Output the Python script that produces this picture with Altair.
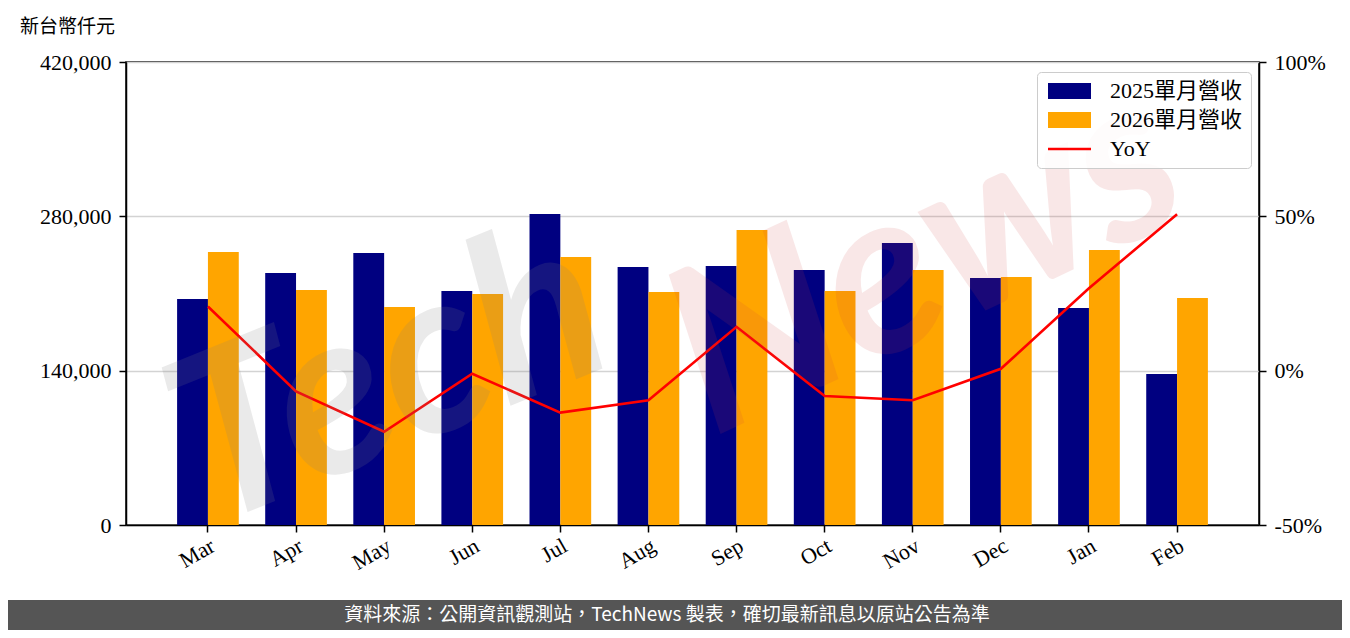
import altair as alt
import pandas as pd

months = ["Mar", "Apr", "May", "Jun", "Jul", "Aug", "Sep", "Oct", "Nov", "Dec", "Jan", "Feb"]
rev_2025 = [205000, 228600, 246700, 212300, 282100, 234000, 235000, 231300, 255800, 224100, 196900, 137000]
rev_2026 = [247600, 213200, 197800, 209600, 243100, 211400, 267600, 212300, 231300, 225000, 249500, 205900]
yoy_pct = [20.8, -6.7, -19.8, -1.0, -13.6, -9.6, 14.2, -8.2, -9.6, 0.6, 26.7, 50.7]
series_names = ["2025單月營收", "2026單月營收", "YoY"]
series_colors = ["#000080", "#FFA500", "#FF0000"]
left_ticks = [0, 140000, 280000, 420000]
right_ticks = [-50, 0, 50, 100]
unit_label = "新台幣仟元"
footer_text = "資料來源：公開資訊觀測站，TechNews 製表，確切最新訊息以原站公告為準"

SERIF = "Liberation Serif, Noto Sans CJK TC, serif"
SANS = "Noto Sans CJK TC, sans-serif"

bar_df = pd.DataFrame(
    {
        "month": months * 2,
        "series": [series_names[0]] * len(months) + [series_names[1]] * len(months),
        "value": rev_2025 + rev_2026,
    }
)
line_df = pd.DataFrame({"month": months, "yoy": yoy_pct})
one = pd.DataFrame({"k": [0]})

W, H = 1133, 463

x_enc = alt.X(
    "month:N",
    sort=months,
    scale=alt.Scale(paddingInner=0.3, paddingOuter=0.58),
    axis=alt.Axis(
        title=None,
        labelAngle=330,
        labelAlign="right",
        labelBaseline="top",
        labelFontSize=22,
        labelPadding=3,
        grid=False,
    ),
)

wide = "M-1,-1H4.375V1H-1Z"
thin = "M-1,-0.17H4.375V0.17H-1Z"

bars = alt.Chart(bar_df).mark_bar().encode(
    x=x_enc,
    xOffset=alt.XOffset("series:N", sort=series_names[:2], scale=alt.Scale(paddingInner=0, paddingOuter=0)),
    y=alt.Y(
        "value:Q",
        scale=alt.Scale(domain=[0, 420000], nice=False),
        axis=alt.Axis(
            title=None,
            values=left_ticks,
            format=",d",
            grid=True,
            gridColor="#d3d3d3",
            gridWidth=1.5,
            labelPadding=8,
        ),
    ),
    color=alt.Color(
        "series:N",
        scale=alt.Scale(domain=series_names, range=series_colors),
        legend=alt.Legend(
            title=None,
            orient="none",
            legendX=911,
            legendY=10,
            padding=8,
            rowPadding=7,
            symbolSize=256,
            symbolStrokeWidth=0,
            symbolOpacity=1,
            symbolType={"expr": "datum.value === 'YoY' ? '" + thin + "' : '" + wide + "'"},
            labelOffset=43,
            labelFont=SERIF,
            labelFontSize=22,
            labelColor="black",
            strokeColor="#cccccc",
            fillColor="rgba(255,255,255,0.85)",
            cornerRadius=4,
            labelLimit=300,
        ),
    ),
)

line = alt.Chart(line_df).mark_line(color="#FF0000", strokeWidth=2.6).encode(
    x=alt.X("month:N", sort=months),
    y=alt.Y(
        "yoy:Q",
        scale=alt.Scale(domain=[-50, 100], nice=False),
        axis=alt.Axis(
            title=None,
            orient="right",
            values=right_ticks,
            labelExpr="datum.value + '%'",
            grid=False,
            labelPadding=8,
        ),
    ),
)

wm_tech = alt.Chart(one).mark_text(
    text="Tech",
    font="Lato",
    fontStyle="italic",
    fontWeight="bold",
    fontSize=230,
    angle=338,
    color="#808080",
    opacity=0.16,
    align="center",
    baseline="middle",
).encode(x=alt.value(264), y=alt.value(318))

wm_news = alt.Chart(one).mark_text(
    text="News",
    font="Lato",
    fontStyle="italic",
    fontWeight="bold",
    fontSize=230,
    angle=335,
    color="#d04040",
    opacity=0.12,
    align="center",
    baseline="middle",
).encode(x=alt.value(800), y=alt.value(200))

unit = alt.Chart(one).mark_text(
    text=unit_label, font=SANS, fontSize=19, color="black", align="left", baseline="middle"
).encode(x=alt.value(-106), y=alt.value(-35))

footer_bg = alt.Chart(one).mark_rect(color="#555555").encode(
    x=alt.value(-118), x2=alt.value(W + 83), y=alt.value(538), y2=alt.value(568)
)
footer = alt.Chart(one).mark_text(
    text=footer_text, font=SANS, fontSize=19, color="white", align="center", baseline="middle"
).encode(x=alt.value(541), y=alt.value(553))

chart = (
    alt.layer(bars, line, wm_tech, wm_news, unit, footer_bg, footer)
    .resolve_scale(y="independent")
    .properties(
        width=W,
        height=H,
        padding={"left": 118, "top": 54, "right": 83, "bottom": 105},
        autosize=alt.AutoSizeParams(type="none"),
        background="white",
    )
    .configure_axis(
        labelFont=SERIF,
        labelFontSize=22,
        labelColor="black",
        domainColor="black",
        domainWidth=1.5,
        tickColor="black",
        tickWidth=1.5,
        tickSize=7,
    )
    .configure_view(stroke="black", strokeWidth=1.5)
)

chart.save("out.html", embed_options={"renderer": "svg", "actions": False})
